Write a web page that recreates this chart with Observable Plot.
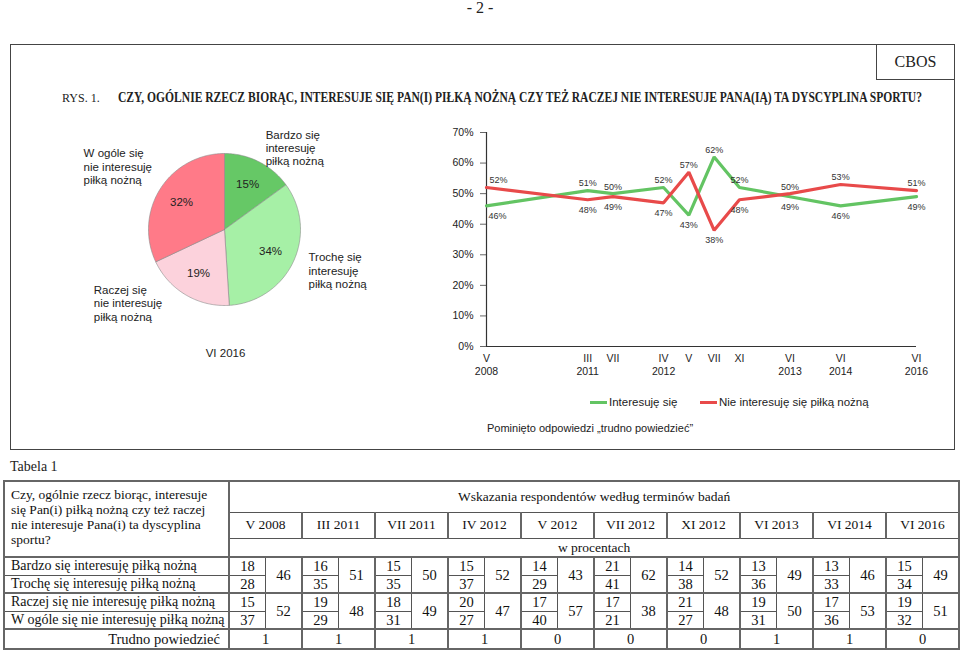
<!DOCTYPE html>
<html><head><meta charset="utf-8">
<script src="https://cdn.jsdelivr.net/npm/d3@7"></script>
<script src="https://cdn.jsdelivr.net/npm/@observablehq/plot@0.6"></script>
<style>
body{margin:0;background:#fff;}
#page{position:relative;width:960px;height:650px;overflow:hidden;background:#fff;font-family:"Liberation Sans",Arial,sans-serif;color:#222;}
.abs{position:absolute;}
.serif{font-family:"Liberation Serif","Times New Roman",serif;}
#tbl{position:absolute;left:3px;top:480px;width:955px;border-collapse:collapse;table-layout:fixed;font-family:"Liberation Serif","Times New Roman",serif;font-size:14.5px;color:#111;border:2px solid #666;}
#tbl td{border:1px solid #555;padding:0;line-height:1;text-align:center;white-space:nowrap;overflow:hidden;}
#tbl td.lab{text-align:left;padding-left:6px;font-size:14px;}
#tbl td.g{border-left:2px solid #666;}
#tbl tr.thick td{border-top:2px solid #666;}
.sw{display:inline-block;width:17px;height:3px;vertical-align:middle;margin-right:2px;}
</style></head><body><div id="page">
<div class="abs serif" style="left:0;top:-1px;width:960px;text-align:center;font-size:16px;">- 2 -</div>
<div class="abs" style="left:10px;top:44px;width:943px;height:404px;border:1px solid #444;"></div>
<div class="abs serif" style="left:876px;top:44px;width:77px;height:35px;border-left:1px solid #444;border-bottom:1px solid #444;font-size:16px;text-align:center;line-height:35px;">CBOS</div>
<div class="abs serif" style="left:62px;top:91px;font-size:12px;">RYS. 1.</div>
<div class="abs serif" id="title" style="left:118px;top:90px;font-size:14px;font-weight:bold;white-space:nowrap;transform-origin:0 0;">CZY, OGÓLNIE RZECZ BIORĄC, INTERESUJE SIĘ PAN(I) PIŁKĄ NOŻNĄ CZY TEŻ RACZEJ NIE INTERESUJE PANA(IĄ) TA DYSCYPLINA SPORTU?</div>
<div class="abs" id="legend" style="left:590px;top:396px;font-size:11.5px;white-space:nowrap;">
  <span class="sw" style="background:#63c463"></span><span>Interesuję się</span>
</div>
<div class="abs" id="legend2" style="left:700px;top:396px;font-size:11.5px;white-space:nowrap;">
  <span class="sw" style="background:#e84a4a"></span><span>Nie interesuję się piłką nożną</span>
</div>
<div class="abs" style="left:487px;top:422px;font-size:11px;">Pominięto odpowiedzi „trudno powiedzieć”</div>
<div class="abs serif" style="left:10px;top:459px;font-size:14px;">Tabela 1</div>
</div>
<script>
// ---------- data ----------
const pieCategories = ["Bardzo się interesuję piłką nożną","Trochę się interesuję piłką nożną","Raczej się nie interesuję piłką nożną","W ogóle się nie interesuję piłką nożną"];
const pieLabels = ["Bardzo się\ninteresuję\npiłką nożną","Trochę się\ninteresuję\npiłką nożną","Raczej się\nnie interesuję\npiłką nożną","W ogóle się\nnie interesuję\npiłką nożną"];
const pieValues = [15, 34, 19, 32];
const pieDate = "VI 2016";

const waves = ["V 2008","III 2011","VII 2011","IV 2012","V 2012","VII 2012","XI 2012","VI 2013","VI 2014","VI 2016"];
const waveMonth = ["V","III","VII","IV","V","VII","XI","VI","VI","VI"];
const waveYear = ["2008","2011","","2012","","","","2013","2014","2016"];
const waveSlot = [0,4,5,7,8,9,10,12,14,17];
const seriesNames = ["Interesuję się","Nie interesuję się piłką nożną"];
const interested = [46,51,50,52,43,62,52,49,46,49];
const notInterested = [52,48,49,47,57,38,48,50,53,51];

const bardzo = [18,16,15,15,14,21,14,13,13,15];
const troche = [28,35,35,37,29,41,38,36,33,34];
const raczej = [15,19,18,20,17,17,21,19,17,19];
const wOgole = [37,29,31,27,40,21,27,31,36,32];
const trudno = [1,1,1,1,0,0,0,1,1,0];

// ---------- styles ----------
const pieColors = ["#66c866","#a6f0a6","#fcd2dc","#ff7a88"];
const lineColors = ["#63c463","#e84a4a"];
const page = document.getElementById("page");

// ---------- pie ----------
const pieW = 330, pieH = 250, pieR = 76, pieCx = 164, pieCy = 119;
const arcs = d3.pie().sort(null).value(d => d)(pieValues);
const piePts = [];
arcs.forEach((a, i) => {
  const cat = pieCategories[i];
  piePts.push({cat, x: pieCx, y: pieCy});
  const steps = Math.max(2, Math.ceil((a.endAngle - a.startAngle) / (Math.PI / 180)));
  for (let k = 0; k <= steps; k++) {
    const t = a.startAngle + (a.endAngle - a.startAngle) * k / steps;
    piePts.push({cat, x: pieCx + pieR * Math.sin(t), y: pieCy - pieR * Math.cos(t)});
  }
  piePts.push({cat, x: pieCx, y: pieCy});
});
const inner = arcs.map((a, i) => {
  const m = (a.startAngle + a.endAngle) / 2;
  return {x: pieCx + 0.67 * pieR * Math.sin(m), y: pieCy - 0.67 * pieR * Math.cos(m), text: pieValues[i] + "%"};
});
const outer = arcs.map((a, i) => {
  const m = (a.startAngle + a.endAngle) / 2;
  return {x: pieCx + (pieR + 8) * Math.sin(m), y: pieCy - (pieR + 8) * Math.cos(m), text: pieLabels[i]};
});
const outerDx = [3, 8, -88, -70], outerDy = [-7, 5, 1, -18];

const pie = Plot.plot({
  width: pieW, height: pieH, margin: 0,
  x: {domain: [0, pieW], range: [0, pieW], axis: null},
  y: {domain: [0, pieH], range: [0, pieH], axis: null},
  color: {domain: pieCategories, range: pieColors},
  style: {fontFamily: "Liberation Sans, Arial, sans-serif", background: "transparent", overflow: "visible", color: "#222"},
  marks: [
    Plot.line(piePts, {x: "x", y: "y", z: "cat", fill: "cat", stroke: "#8a8a8a", strokeWidth: 0.6, strokeLinejoin: "round"}),
    Plot.text(inner, {x: "x", y: "y", text: "text", fontSize: 11.5, fill: "#222"}),
    ...outer.map((d, i) => Plot.text([d], {x: "x", y: "y", text: "text", textAnchor: "start", lineAnchor: "middle", lineHeight: 1.17, fontSize: 11.5, fill: "#222", dx: outerDx[i], dy: outerDy[i]})),
    Plot.text([pieDate], {frameAnchor: "bottom", lineAnchor: "bottom", dy: -4, fontSize: 11.5, fill: "#222"})
  ]
});
pie.style.position = "absolute"; pie.style.left = "60px"; pie.style.top = "110px";
page.appendChild(pie);

// ---------- line chart ----------
const lineData = [];
const valueLabels = [];
waves.forEach((w, i) => {
  lineData.push({series: seriesNames[0], slot: waveSlot[i], value: interested[i]});
  lineData.push({series: seriesNames[1], slot: waveSlot[i], value: notInterested[i]});
  valueLabels.push({i, slot: waveSlot[i], value: interested[i], above: interested[i] > notInterested[i]});
  valueLabels.push({i, slot: waveSlot[i], value: notInterested[i], above: notInterested[i] > interested[i]});
});
const fmtSlot = d => { const i = waveSlot.indexOf(d); return waveYear[i] ? waveMonth[i] + "\n" + waveYear[i] : waveMonth[i]; };
const lblOpts = {x: "slot", y: "value", text: d => d.value + "%", fontSize: 9, fill: "#333", lineAnchor: "middle"};
const chart = Plot.plot({
  width: 520, height: 265, marginLeft: 56, marginRight: 34, marginTop: 17, marginBottom: 34,
  x: {domain: [0, 17]},
  y: {domain: [0, 70]},
  color: {domain: seriesNames, range: lineColors},
  style: {fontFamily: "Liberation Sans, Arial, sans-serif", fontSize: "10.5px", background: "transparent", overflow: "visible", color: "#222"},
  marks: [
    Plot.axisY({ticks: d3.range(0, 71, 10), tickFormat: d => d + "%", tickSize: 6, tickPadding: 7, label: null, stroke: "#666", fontSize: 10.5}),
    Plot.axisX({ticks: waveSlot, tickFormat: fmtSlot, tickSize: 0, tickPadding: 6, label: null, lineHeight: 1.25, fontSize: 10.5}),
    Plot.ruleX([0], {y1: 0, y2: 70, stroke: "#333", strokeWidth: 1.2}),
    Plot.ruleY([0], {x1: 0, x2: 17, stroke: "#333", strokeWidth: 1.2}),
    Plot.line(lineData, {x: "slot", y: "value", z: "series", stroke: "series", strokeWidth: 3.2, strokeLinejoin: "miter"}),
    Plot.text(valueLabels.filter(d => d.above && d.i > 0), {...lblOpts, dy: -7}),
    Plot.text(valueLabels.filter(d => !d.above && d.i > 0), {...lblOpts, dy: 10}),
    Plot.text(valueLabels.filter(d => d.above && d.i === 0), {...lblOpts, dy: -7, dx: 3, textAnchor: "start"}),
    Plot.text(valueLabels.filter(d => !d.above && d.i === 0), {...lblOpts, dy: 10, dx: 2, textAnchor: "start"})
  ]
});
chart.style.position = "absolute"; chart.style.left = "430px"; chart.style.top = "115px";
page.appendChild(chart);

// ---------- title fit ----------
const title = document.getElementById("title");
const tw = title.getBoundingClientRect().width;
title.style.transform = `scaleX(${804 / tw})`;

// ---------- table ----------
let h = '<colgroup><col style="width:225px">' + '<col style="width:36.5px">'.repeat(20) + '</colgroup>';
h += '<tr style="height:31px"><td rowspan="3" class="lab" style="vertical-align:top;padding-top:5px;font-size:13.5px;line-height:15px;border-right:2px solid #666;">Czy, ogólnie rzecz biorąc, interesuje<br>się Pan(i) piłką nożną czy też raczej<br>nie interesuje Pana(i) ta dyscyplina<br>sportu?</td>'
   + '<td colspan="20" style="font-size:13.5px;">Wskazania respondentów według terminów badań</td></tr>';
h += '<tr style="height:26px">' + waves.map(w => `<td colspan="2" class="g" style="font-size:13.5px;">${w}</td>`).join("") + '</tr>';
h += '<tr style="height:19px"><td colspan="20" style="font-size:13.5px;">w procentach</td></tr>';
const rowsTop = [[pieCategories[0], bardzo, interested], [pieCategories[1], troche, null]];
const rowsBot = [[pieCategories[2], raczej, notInterested], [pieCategories[3], wOgole, null]];
[rowsTop, rowsBot].forEach((grp, gi) => {
  grp.forEach(([lab, vals, sums], ri) => {
    const cls = ri === 0 ? ' class="thick"' : '';
    h += `<tr${cls} style="height:18px"><td class="lab" style="border-right:2px solid #666;">${lab}</td>`;
    vals.forEach((v, k) => {
      h += `<td class="g">${v}</td>`;
      if (sums) h += `<td rowspan="2">${sums[k]}</td>`;
    });
    h += '</tr>';
  });
});
h += '<tr class="thick" style="height:20px"><td style="text-align:right;padding-right:8px;border-right:2px solid #666;">Trudno powiedzieć</td>' + trudno.map(v => `<td colspan="2" class="g">${v}</td>`).join("") + '</tr>';
const tbl = document.createElement("table");
tbl.id = "tbl"; tbl.innerHTML = h;
page.appendChild(tbl);
</script>
</body></html>
